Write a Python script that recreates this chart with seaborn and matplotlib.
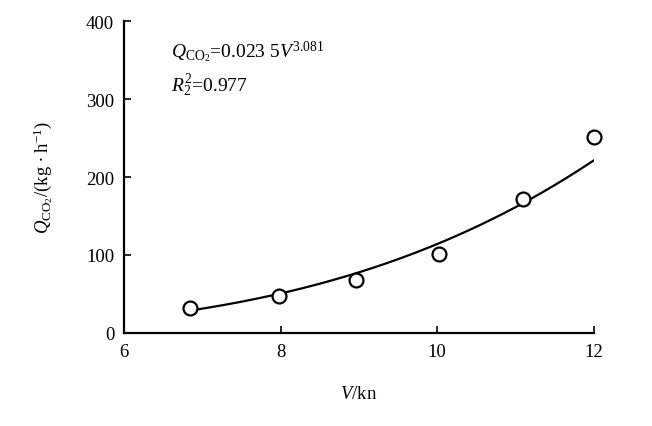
import numpy as np
import pandas as pd
import matplotlib
matplotlib.use("Agg")
import matplotlib.pyplot as plt
import seaborn as sns

# measured points
speed_kn = [6.84, 7.98, 8.96, 10.02, 11.10, 12.00]
q_co2 = [32, 47, 68, 101, 172, 251]

# readings of the drawn fit curve
fit_speed = [6.85, 8.0, 9.0, 10.0, 11.1, 12.0]
fit_q = [29.5, 50, 76, 111, 173, 222]

x_ticks = [6, 8, 10, 12]
y_ticks = [0, 100, 200, 300, 400]

sns.set_theme(style="ticks")
plt.rcParams["font.family"] = ["Liberation Serif", "DejaVu Serif"]
plt.rcParams["mathtext.fontset"] = "custom"
plt.rcParams["mathtext.rm"] = "Liberation Serif"
plt.rcParams["mathtext.it"] = "Liberation Serif:italic"
plt.rcParams["text.color"] = "black"
plt.rcParams["axes.labelcolor"] = "black"
plt.rcParams["xtick.color"] = "black"
plt.rcParams["ytick.color"] = "black"

fig = plt.figure(figsize=(6.52, 4.27), dpi=100)
ax = fig.add_axes([0.190, 0.218, 0.721, 0.730])

# power-law fit through the curve readings
b, ln_a = np.polyfit(np.log(fit_speed), np.log(fit_q), 1)
xs = np.linspace(min(fit_speed), max(fit_speed), 200)
curve = pd.DataFrame({"V": xs, "Q": np.exp(ln_a) * xs ** b})
sns.lineplot(data=curve, x="V", y="Q", ax=ax, color="black", linewidth=1.6)

pts = pd.DataFrame({"V": speed_kn, "Q": q_co2})
ax.plot(pts["V"], pts["Q"], linestyle="none", marker="o", markersize=10,
        markerfacecolor="white", markeredgecolor="black", markeredgewidth=1.6,
        zorder=5, clip_on=False)

ax.set_xlim(6, 12)
ax.set_ylim(0, 400)
ax.set_xticks(x_ticks)
ax.set_yticks(y_ticks)
ax.tick_params(direction="in", length=5, width=1.2, labelsize=13.5,
               colors="black", labelcolor="black", pad=7)
for s in ["top", "right"]:
    ax.spines[s].set_visible(False)
for s in ["left", "bottom"]:
    ax.spines[s].set_linewidth(1.6)
    ax.spines[s].set_color("black")

ax.set_xlabel(r"$V$/kn", fontsize=13.5, labelpad=18, color="black")
ax.set_ylabel(r"$Q_{\mathrm{CO_2}}$/(kg $\bullet$ h$^{-1}$)", fontsize=13.5,
              labelpad=22, color="black")

ax.text(6.60, 362, r"$Q_{\mathrm{CO_2}}$=0.023 5$V^{3.081}$", fontsize=14,
        va="center", ha="left", color="black")
ax.text(6.60, 318, r"$R_2^2$=0.977", fontsize=14, va="center", ha="left", color="black")

fig.savefig("out.png", dpi=100, facecolor="white")
